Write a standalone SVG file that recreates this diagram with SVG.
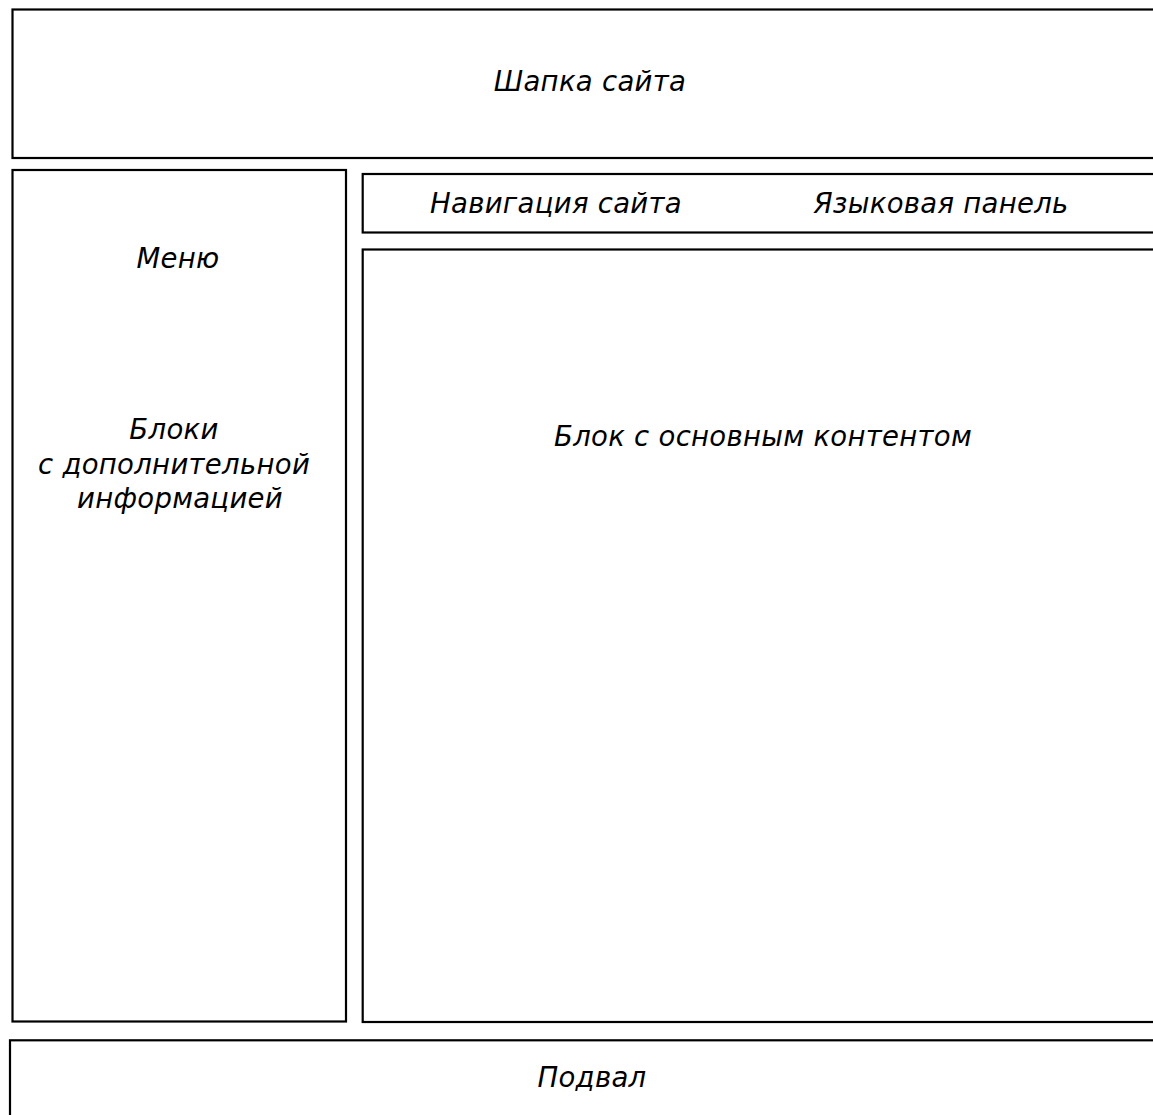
<svg xmlns="http://www.w3.org/2000/svg" width="1153" height="1115" viewBox="0 0 1153 1115">
<style>
.box{fill:#fff;stroke:#000;stroke-width:2.2}
.t{font-family:"DejaVu Sans",Verdana,sans-serif;font-style:italic;font-size:27.5px;letter-spacing:0.3px;fill:#000;text-anchor:middle}
</style>
<rect width="1153" height="1115" fill="#fff"/>
<g id="header"><rect class="box" x="12.5" y="9.5" width="1160" height="148.5"/><text class="t" x="590" y="91">Шапка сайта</text></g>
<g id="menu"><rect class="box" x="12.5" y="170" width="333.5" height="851.5"/><text class="t" x="178" y="268">Меню</text>
<text class="t" x="174" y="439">Блоки</text><text class="t" x="174" y="474">с дополнительной</text><text class="t" x="180" y="508">информацией</text></g>
<g id="nav"><rect class="box" x="362.7" y="174" width="810" height="58.5"/><text class="t" x="556" y="213">Навигация сайта</text><text class="t" x="941" y="213">Языковая панель</text></g>
<g id="content"><rect class="box" x="362.7" y="249.5" width="810" height="772.5"/><text class="t" x="763" y="446">Блок с основным контентом</text></g>
<g id="footer"><rect class="box" x="10" y="1040.3" width="1160" height="100"/><text class="t" x="592" y="1087">Подвал</text></g>
<g id="connectors"/>
</svg>
